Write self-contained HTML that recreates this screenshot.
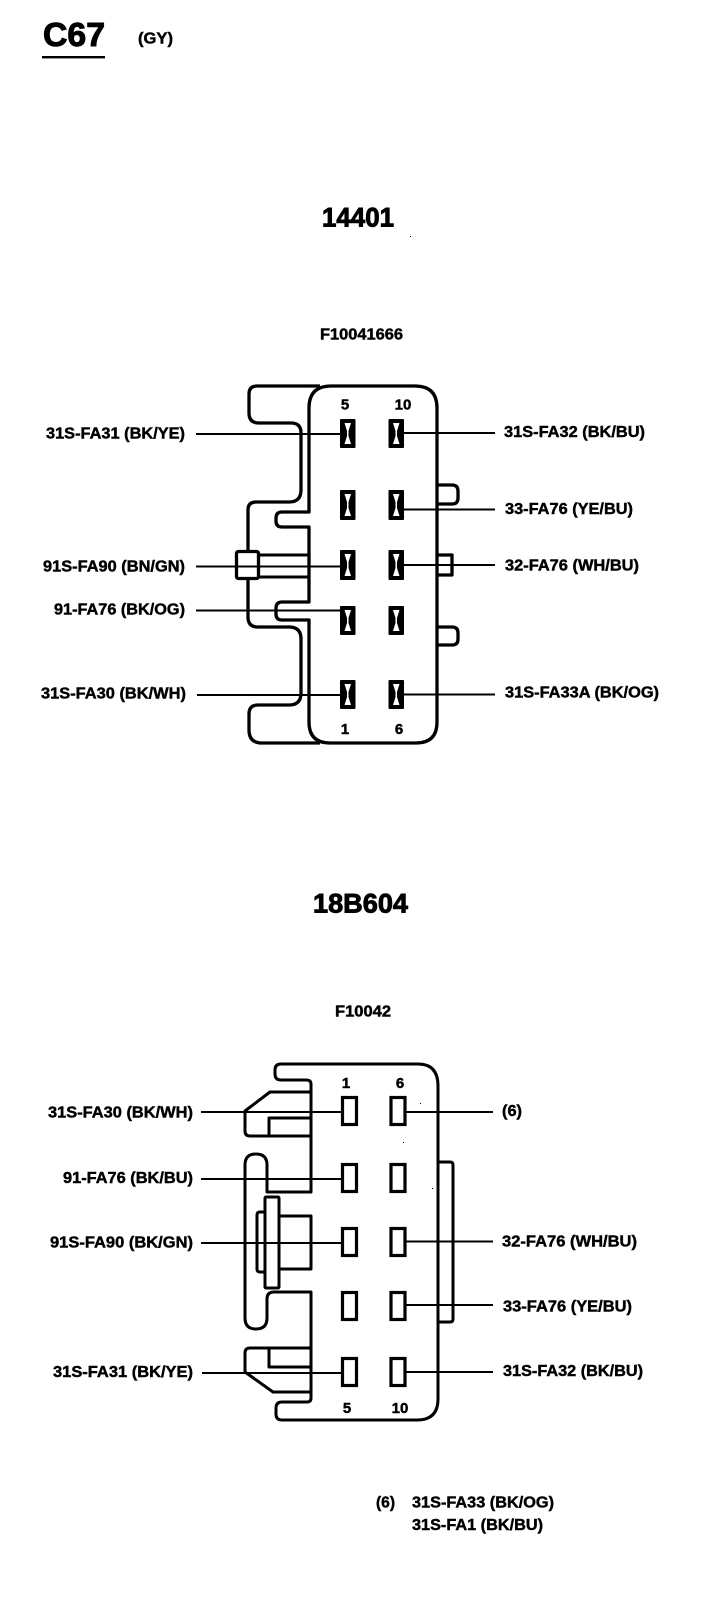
<!DOCTYPE html>
<html>
<head>
<meta charset="utf-8">
<style>
html,body{margin:0;padding:0;background:#fff;width:704px;height:1598px;overflow:hidden}
svg{display:block}
text{font-family:"Liberation Sans",Arial,sans-serif;font-weight:bold;font-size:16px;fill:#000;stroke:#000;stroke-width:.45}
.n{font-size:15px;text-anchor:middle}
.o{fill:none;stroke:#000;stroke-width:3.3;stroke-linejoin:round}
.p{fill:none;stroke:#000;stroke-width:3;stroke-linejoin:round}
.w{fill:none;stroke:#000;stroke-width:2}
.pin{fill:#fff;stroke:#000;stroke-width:3.2}
</style>
</head>
<body>
<svg xmlns="http://www.w3.org/2000/svg" width="704" height="1598" viewBox="0 0 704 1598">
<rect width="704" height="1598" fill="#fff"/>

<!-- header -->
<text x="43" y="46" textLength="62" lengthAdjust="spacingAndGlyphs" style="font-size:33px;stroke-width:1">C67</text>
<rect x="42" y="56" width="63" height="2.4" fill="#000"/>
<text x="138" y="43.500" textLength="35" lengthAdjust="spacingAndGlyphs">(GY)</text>

<text x="322" y="226.500" textLength="72" lengthAdjust="spacingAndGlyphs" style="font-size:27px;stroke-width:.9">14401</text>
<rect x="410" y="236" width="1" height="1" fill="#000"/>
<text x="320" y="339.500" textLength="83" lengthAdjust="spacingAndGlyphs">F10041666</text>

<!-- connector 1 shell -->
<path class="o" d="M320 386 H257 Q249 386 249 394 V413 Q249 423 259 423 H291 Q301 423 301 433 V490 Q301 502 289 502 H256 Q248 502 248 510 V551 M248 579 V617 Q248 627 258 627 H289 Q301 627 301 639 V693 Q301 705 289 705 H258 Q249 705 249 714 V730 Q249 743 262 743 H320"/>
<path class="o" d="M437 408 V722 Q437 743 416 743 H330 Q309 743 309 722 V620 H282 Q276 620 276 614 V608 Q276 602 282 602 H309 V527 H282 Q276 527 276 521 V518 Q276 512 282 512 H309 V408 Q309 386 331 386 H415 Q437 386 437 408 Z"/>
<rect class="o" x="236.500" y="551.500" width="22" height="27" rx="2"/>
<path class="p" d="M259 555 H309 M259 577 H309"/>
<path class="o" d="M437 485 H452 Q458 485 458 491 V498 Q458 504 452 504 H437"/>
<path class="o" d="M437 555 H452 V575 H437"/>
<path class="o" d="M437 627 H452 Q458 627 458 633 V639 Q458 645 452 645 H437"/>

<!-- connector 1 wires -->
<path class="w" d="M196 434 H340 M404 433 H495 M404 509.500 H495 M196 566.500 H340 M404 565 H495 M196 610.500 H340 M197 695 H340 M404 694.500 H495"/>

<!-- connector 1 pins -->
<g>
<g transform="translate(340,419)"><rect width="15.500" height="29" rx="1" fill="#000"/><path fill="#fff" d="M4.500 4 H11 L8.500 12 V17 L11 25 H4.500 L7 17 V12 Z"/></g>
<g transform="translate(388.500,419)"><rect width="15.500" height="29" rx="1" fill="#000"/><path fill="#fff" d="M4.500 4 H11 L8.500 12 V17 L11 25 H4.500 L7 17 V12 Z"/></g>
<g transform="translate(340,490)"><rect width="15.500" height="30" rx="1" fill="#000"/><path fill="#fff" d="M4.500 4 H11 L8.500 12 V18 L11 26 H4.500 L7 18 V12 Z"/></g>
<g transform="translate(388.500,490)"><rect width="15.500" height="30" rx="1" fill="#000"/><path fill="#fff" d="M4.500 4 H11 L8.500 12 V18 L11 26 H4.500 L7 18 V12 Z"/></g>
<g transform="translate(340,550)"><rect width="15.500" height="30" rx="1" fill="#000"/><path fill="#fff" d="M4.500 4 H11 L8.500 12 V18 L11 26 H4.500 L7 18 V12 Z"/></g>
<g transform="translate(388.500,550)"><rect width="15.500" height="30" rx="1" fill="#000"/><path fill="#fff" d="M4.500 4 H11 L8.500 12 V18 L11 26 H4.500 L7 18 V12 Z"/></g>
<g transform="translate(340,606)"><rect width="15.500" height="29" rx="1" fill="#000"/><path fill="#fff" d="M4.500 4 H11 L8.500 12 V17 L11 25 H4.500 L7 17 V12 Z"/></g>
<g transform="translate(388.500,606)"><rect width="15.500" height="29" rx="1" fill="#000"/><path fill="#fff" d="M4.500 4 H11 L8.500 12 V17 L11 25 H4.500 L7 17 V12 Z"/></g>
<g transform="translate(340,680)"><rect width="15.500" height="29" rx="1" fill="#000"/><path fill="#fff" d="M4.500 4 H11 L8.500 12 V17 L11 25 H4.500 L7 17 V12 Z"/></g>
<g transform="translate(388.500,680)"><rect width="15.500" height="29" rx="1" fill="#000"/><path fill="#fff" d="M4.500 4 H11 L8.500 12 V17 L11 25 H4.500 L7 17 V12 Z"/></g>
</g>

<text class="n" x="345" y="409.500">5</text>
<text class="n" x="403" y="409.500">10</text>
<text class="n" x="345" y="734">1</text>
<text class="n" x="399" y="734">6</text>

<!-- connector 1 labels -->
<text x="46" y="438.500" textLength="139" lengthAdjust="spacingAndGlyphs">31S-FA31 (BK/YE)</text>
<text x="43" y="571.500" textLength="142" lengthAdjust="spacingAndGlyphs">91S-FA90 (BN/GN)</text>
<text x="54" y="614.500" textLength="131" lengthAdjust="spacingAndGlyphs">91-FA76 (BK/OG)</text>
<text x="41" y="698.500" textLength="145" lengthAdjust="spacingAndGlyphs">31S-FA30 (BK/WH)</text>
<text x="504" y="437" textLength="141" lengthAdjust="spacingAndGlyphs">31S-FA32 (BK/BU)</text>
<text x="505" y="514" textLength="128" lengthAdjust="spacingAndGlyphs">33-FA76 (YE/BU)</text>
<text x="505" y="570.500" textLength="134" lengthAdjust="spacingAndGlyphs">32-FA76 (WH/BU)</text>
<text x="505" y="697.500" textLength="154" lengthAdjust="spacingAndGlyphs">31S-FA33A (BK/OG)</text>

<!-- connector 2 -->
<text x="313" y="912.500" textLength="95" lengthAdjust="spacingAndGlyphs" style="font-size:27px;stroke-width:.9">18B604</text>
<text x="335" y="1016.500" textLength="56" lengthAdjust="spacingAndGlyphs">F10042</text>

<path class="p" d="M311 1192 V1084 Q311 1080 306 1080 H281 Q275 1080 275 1074 V1070 Q275 1064 281 1064 H418 Q438 1064 438 1086 V1399 Q438 1420 417 1420 H282 Q276 1420 276 1414 V1408 Q276 1402 282 1402 H307 Q311 1402 311 1398 V1292 H274 Q267 1292 267 1299 V1318 Q267 1329 256 1329 Q245 1329 245 1318 V1165 Q245 1154 256 1154 Q267 1154 267 1165 V1192 Z"/>
<path class="p" d="M311 1092 H270 L245 1111 V1131 Q245 1136 250 1136 H311"/>
<path class="p" d="M311 1118 H269 V1136"/>
<path class="p" d="M311 1348 H250 Q245 1348 245 1353 V1372 L273 1392 H311"/>
<path class="p" d="M269 1348 V1367 H311"/>
<rect class="p" x="265" y="1197" width="14" height="91" rx="1"/>
<path class="p" d="M265 1212 H260 Q257 1212 257 1215 V1269 Q257 1272 260 1272 H265"/>
<path class="p" d="M279 1216 H311 V1269 H279"/>
<path class="p" d="M439 1162 H450 Q453 1162 453 1165 V1319 Q453 1322 450 1322 H439"/>

<path class="w" d="M201 1112 H342 M405 1112 H493 M201 1179 H342 M201 1243 H342 M405 1241.500 H493 M405 1305 H493 M202 1373 H342 M405 1372 H493"/>

<rect class="pin" x="342.500" y="1097.500" width="14" height="27"/>
<rect class="pin" x="391" y="1097.500" width="14" height="27"/>
<rect class="pin" x="342.500" y="1164.500" width="14" height="27"/>
<rect class="pin" x="391" y="1164.500" width="14" height="27"/>
<rect class="pin" x="342.500" y="1228.500" width="14" height="27"/>
<rect class="pin" x="391" y="1228.500" width="14" height="27"/>
<rect class="pin" x="342.500" y="1292.500" width="14" height="27"/>
<rect class="pin" x="391" y="1292.500" width="14" height="27"/>
<rect class="pin" x="342.500" y="1358.500" width="14" height="27"/>
<rect class="pin" x="391" y="1358.500" width="14" height="27"/>

<rect x="420" y="1103" width="1" height="1" fill="#000"/>
<rect x="403" y="1142" width="1" height="1" fill="#000"/>
<rect x="432" y="1188" width="1" height="1" fill="#000"/>

<text class="n" x="346" y="1088">1</text>
<text class="n" x="400" y="1088">6</text>
<text class="n" x="347" y="1413">5</text>
<text class="n" x="400" y="1413">10</text>

<text x="48" y="1117.500" textLength="145" lengthAdjust="spacingAndGlyphs">31S-FA30 (BK/WH)</text>
<text x="63" y="1183" textLength="130" lengthAdjust="spacingAndGlyphs">91-FA76 (BK/BU)</text>
<text x="50" y="1247.500" textLength="143" lengthAdjust="spacingAndGlyphs">91S-FA90 (BK/GN)</text>
<text x="53" y="1377" textLength="140" lengthAdjust="spacingAndGlyphs">31S-FA31 (BK/YE)</text>
<text x="502" y="1116" textLength="20" lengthAdjust="spacingAndGlyphs">(6)</text>
<text x="502" y="1246.500" textLength="135" lengthAdjust="spacingAndGlyphs">32-FA76 (WH/BU)</text>
<text x="503" y="1311.500" textLength="129" lengthAdjust="spacingAndGlyphs">33-FA76 (YE/BU)</text>
<text x="503" y="1376" textLength="140" lengthAdjust="spacingAndGlyphs">31S-FA32 (BK/BU)</text>

<text x="376" y="1507.500" textLength="19" lengthAdjust="spacingAndGlyphs">(6)</text>
<text x="412" y="1507.500" textLength="142" lengthAdjust="spacingAndGlyphs">31S-FA33 (BK/OG)</text>
<text x="412" y="1530" textLength="131" lengthAdjust="spacingAndGlyphs">31S-FA1 (BK/BU)</text>
</svg>
</body>
</html>
